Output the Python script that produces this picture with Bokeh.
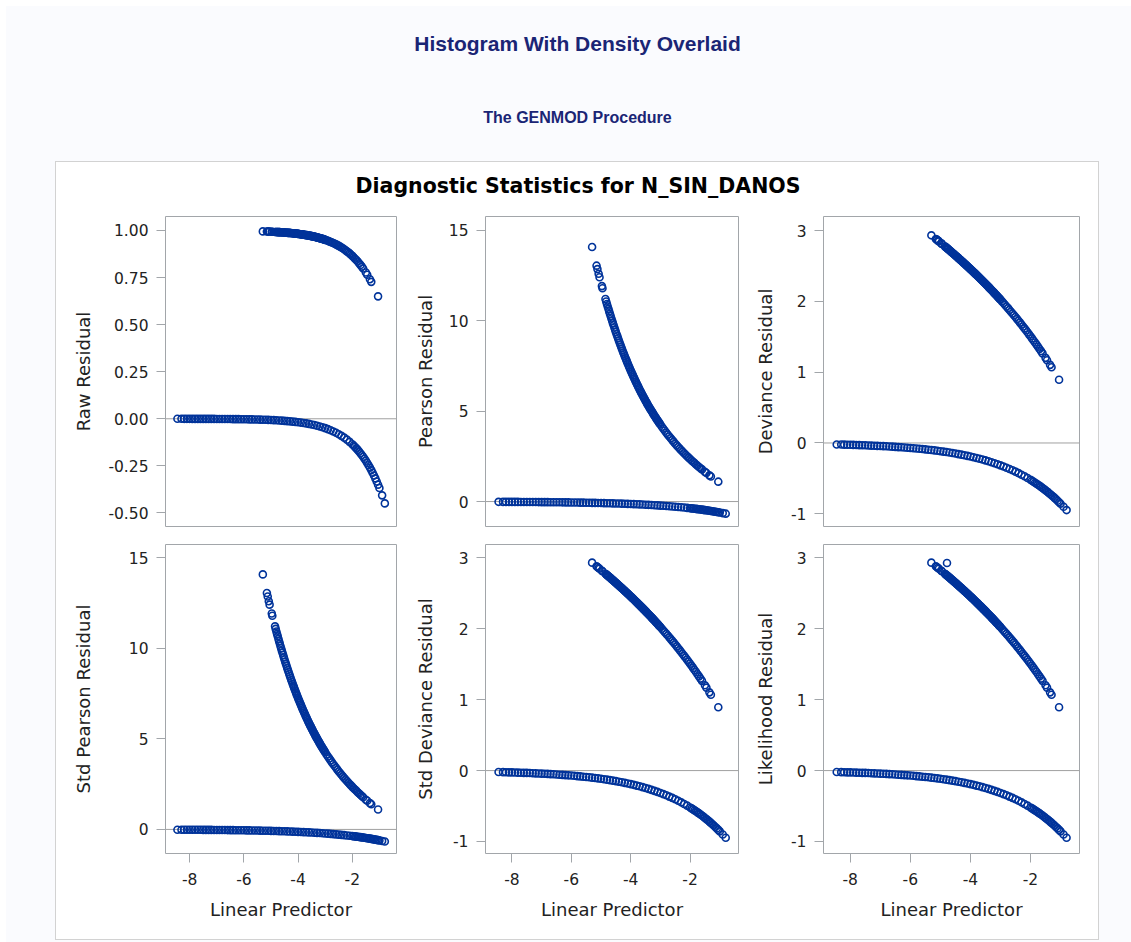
from bokeh.plotting import figure
from bokeh.models import (Range1d, FixedTicker, NumeralTickFormatter, Span, Column, Row)
from bokeh.core.properties import value
from bokeh.embed import file_html
from bokeh.resources import INLINE

# ---------------- texts ----------------
page_title = "Histogram With Density Overlaid"
page_subtitle = "The GENMOD Procedure"
graph_title = "Diagnostic Statistics for N_SIN_DANOS"
x_label = "Linear Predictor"
panel_labels = ["Raw Residual", "Pearson Residual", "Deviance Residual",
                "Std Pearson Residual", "Std Deviance Residual", "Likelihood Residual"]
x_ticks = [-8, -6, -4, -2]
raw_ticks = [-0.50, -0.25, 0.00, 0.25, 0.50, 0.75, 1.00]
pearson_ticks = [0, 5, 10, 15]
deviance_ticks = [-1, 0, 1, 2, 3]

# ---------------- data ----------------
# observations with a response (upper branch)
x_upper = [-5.30, -5.15, -5.12, -5.08, -5.05, -4.97, -4.95,
           -4.85, -4.80, -4.75, -4.70, -4.65, -4.60, -4.55, -4.50, -4.45, -4.40,
           -4.35, -4.30, -4.25, -4.20, -4.15, -4.10, -4.05, -4.00, -3.95, -3.90,
           -3.85, -3.80, -3.75, -3.70, -3.65, -3.60, -3.55, -3.50, -3.45, -3.40,
           -3.35, -3.30, -3.25, -3.20, -3.15, -3.10, -3.05, -3.00, -2.95, -2.90,
           -2.85, -2.80, -2.75, -2.70, -2.65, -2.60, -2.55, -2.50, -2.45, -2.40,
           -2.35, -2.30, -2.25, -2.20, -2.15, -2.10, -2.05, -2.00, -1.95, -1.90,
           -1.85, -1.80, -1.75, -1.70, -1.65, -1.60,
           -1.50, -1.45, -1.35, -1.30, -1.05]
raw_upper = [0.995, 0.994, 0.994, 0.994, 0.994, 0.993, 0.993,
             0.992, 0.992, 0.991, 0.991, 0.990, 0.990, 0.989, 0.989, 0.988, 0.988,
             0.987, 0.986, 0.986, 0.985, 0.984, 0.983, 0.983, 0.982, 0.981, 0.980,
             0.979, 0.978, 0.976, 0.975, 0.974, 0.973, 0.971, 0.970, 0.968, 0.967,
             0.965, 0.963, 0.961, 0.959, 0.957, 0.955, 0.953, 0.950, 0.948, 0.945,
             0.942, 0.939, 0.936, 0.933, 0.929, 0.926, 0.922, 0.918, 0.914, 0.909,
             0.905, 0.900, 0.895, 0.889, 0.884, 0.878, 0.871, 0.865, 0.858, 0.850,
             0.843, 0.835, 0.826, 0.817, 0.808, 0.798,
             0.777, 0.765, 0.741, 0.727, 0.650]
pearson_upper = [14.08, 13.05, 12.86, 12.60, 12.41, 11.92, 11.80,
                 11.21, 10.93, 10.66, 10.39, 10.13, 9.87, 9.63, 9.38, 9.15, 8.91,
                 8.69, 8.47, 8.25, 8.04, 7.84, 7.64, 7.44, 7.25, 7.07, 6.89,
                 6.71, 6.54, 6.37, 6.20, 6.04, 5.88, 5.73, 5.58, 5.43, 5.29,
                 5.15, 5.02, 4.88, 4.75, 4.62, 4.50, 4.38, 4.26, 4.14, 4.03,
                 3.92, 3.81, 3.70, 3.60, 3.50, 3.40, 3.30, 3.20, 3.11, 3.02,
                 2.93, 2.84, 2.76, 2.67, 2.59, 2.51, 2.43, 2.35, 2.27, 2.20,
                 2.13, 2.05, 1.98, 1.91, 1.84, 1.78,
                 1.64, 1.58, 1.45, 1.39, 1.10]
deviance_upper = [2.934, 2.883, 2.873, 2.859, 2.848, 2.820, 2.813,
                  2.778, 2.760, 2.742, 2.724, 2.705, 2.687, 2.669, 2.650, 2.631, 2.612,
                  2.593, 2.574, 2.555, 2.536, 2.516, 2.497, 2.477, 2.457, 2.437, 2.417,
                  2.396, 2.376, 2.355, 2.334, 2.313, 2.292, 2.271, 2.250, 2.228, 2.206,
                  2.184, 2.162, 2.140, 2.117, 2.094, 2.071, 2.048, 2.025, 2.001, 1.977,
                  1.953, 1.929, 1.905, 1.880, 1.855, 1.830, 1.805, 1.779, 1.753, 1.727,
                  1.700, 1.674, 1.646, 1.619, 1.592, 1.564, 1.535, 1.507, 1.478, 1.449,
                  1.419, 1.390, 1.359, 1.329, 1.298, 1.266,
                  1.203, 1.170, 1.104, 1.070, 0.894]

# further observations of the upper branch, in its steep, dense part
x_upper_b = [-4.825, -4.775, -4.725, -4.675, -4.625, -4.575, -4.525, -4.475, -4.425, -4.375,
             -4.325, -4.275, -4.225, -4.175, -4.125, -4.075, -4.025, -3.975, -3.925, -3.875,
             -3.825, -3.775, -3.725, -3.675, -3.625, -3.575, -3.525, -3.475, -3.425, -3.375,
             -3.325, -3.275, -3.225, -3.175, -3.125, -3.075, -3.025]
raw_upper_b = [0.992, 0.992, 0.991, 0.991, 0.990, 0.990, 0.989, 0.989, 0.988, 0.987,
               0.987, 0.986, 0.985, 0.985, 0.984, 0.983, 0.982, 0.981, 0.980, 0.979,
               0.978, 0.977, 0.976, 0.975, 0.973, 0.972, 0.971, 0.969, 0.967, 0.966,
               0.964, 0.962, 0.960, 0.958, 0.956, 0.954, 0.951]
pearson_upper_b = [11.07, 10.79, 10.52, 10.26, 10.00, 9.75, 9.50, 9.26, 9.03, 8.80,
                   8.58, 8.36, 8.15, 7.94, 7.74, 7.54, 7.35, 7.16, 6.98, 6.80,
                   6.62, 6.45, 6.28, 6.12, 5.96, 5.81, 5.66, 5.51, 5.36, 5.22,
                   5.08, 4.95, 4.82, 4.69, 4.56, 4.44, 4.32]
deviance_upper_b = [2.769, 2.751, 2.733, 2.715, 2.696, 2.678, 2.659, 2.641, 2.622, 2.603,
                    2.584, 2.565, 2.545, 2.526, 2.506, 2.487, 2.467, 2.447, 2.427, 2.407,
                    2.386, 2.366, 2.345, 2.324, 2.303, 2.282, 2.260, 2.239, 2.217, 2.195,
                    2.173, 2.151, 2.128, 2.106, 2.083, 2.060, 2.036]

std_pearson_upper, std_pearson_upper_b = pearson_upper, pearson_upper_b
std_deviance_upper, std_deviance_upper_b = deviance_upper, deviance_upper_b
likelihood_upper, likelihood_upper_b = deviance_upper, deviance_upper_b
likelihood_extra_x = [-4.78]
likelihood_extra_y = [2.93]

# observations without a response (lower branch)
x_lower = [-8.45, -8.3, -8.2, -8.1, -8.0, -7.9, -7.8, -7.7, -7.6, -7.5,
           -7.4, -7.3, -7.2, -7.1, -7.0, -6.9, -6.8, -6.7, -6.6, -6.5,
           -6.4, -6.3, -6.2, -6.1, -6.0, -5.9, -5.8, -5.7, -5.6, -5.5,
           -5.4, -5.3, -5.2, -5.1, -5.0, -4.9, -4.8, -4.7, -4.6, -4.5,
           -4.4, -4.3, -4.2, -4.1, -4.0, -3.9, -3.8, -3.7, -3.6, -3.5,
           -3.4, -3.3, -3.2, -3.1, -3.0, -2.9, -2.8, -2.7, -2.6, -2.5,
           -2.4, -2.3, -2.2, -2.1, -2.0, -1.95, -1.9, -1.85, -1.8, -1.75,
           -1.7, -1.65, -1.6, -1.55, -1.5, -1.45, -1.4, -1.35, -1.3, -1.25,
           -1.2, -1.15, -1.1, -1.05, -1.0, -0.9, -0.8]
raw_lower = [-0.0002, -0.0002, -0.0003, -0.0003, -0.0003, -0.0004, -0.0004, -0.0005, -0.0005, -0.0006,
             -0.0006, -0.0007, -0.0007, -0.0008, -0.0009, -0.0010, -0.0011, -0.0012, -0.0014, -0.0015,
             -0.0017, -0.0018, -0.0020, -0.0022, -0.0025, -0.0027, -0.0030, -0.0033, -0.0037, -0.0041,
             -0.0045, -0.0050, -0.0055, -0.0061, -0.0067, -0.0074, -0.0082, -0.0091, -0.0101, -0.0111,
             -0.0123, -0.0136, -0.0150, -0.0166, -0.0183, -0.0202, -0.0224, -0.0247, -0.0273, -0.0302,
             -0.0334, -0.0369, -0.0408, -0.0450, -0.0498, -0.0550, -0.0608, -0.0672, -0.0743, -0.0821,
             -0.0907, -0.1003, -0.1108, -0.1225, -0.1353, -0.1423, -0.1496, -0.1572, -0.1653, -0.1738,
             -0.1827, -0.1921, -0.2019, -0.2122, -0.2231, -0.2346, -0.2466, -0.2592, -0.2725, -0.2865,
             -0.3012, -0.3166, -0.3329, -0.3499, -0.3679, -0.4066, -0.4493]
pearson_lower = [-0.015, -0.016, -0.017, -0.017, -0.018, -0.019, -0.020, -0.021, -0.022, -0.024,
                 -0.025, -0.026, -0.027, -0.029, -0.030, -0.032, -0.033, -0.035, -0.037, -0.039,
                 -0.041, -0.043, -0.045, -0.047, -0.050, -0.052, -0.055, -0.058, -0.061, -0.064,
                 -0.067, -0.071, -0.074, -0.078, -0.082, -0.086, -0.091, -0.095, -0.100, -0.105,
                 -0.111, -0.116, -0.122, -0.129, -0.135, -0.142, -0.150, -0.157, -0.165, -0.174,
                 -0.183, -0.192, -0.202, -0.212, -0.223, -0.235, -0.247, -0.259, -0.273, -0.287,
                 -0.301, -0.317, -0.333, -0.350, -0.368, -0.377, -0.387, -0.397, -0.407, -0.417,
                 -0.427, -0.438, -0.449, -0.461, -0.472, -0.484, -0.497, -0.509, -0.522, -0.535,
                 -0.549, -0.563, -0.577, -0.592, -0.607, -0.638, -0.670]
deviance_lower = [-0.021, -0.022, -0.023, -0.025, -0.026, -0.027, -0.029, -0.030, -0.032, -0.033,
                  -0.035, -0.037, -0.039, -0.041, -0.043, -0.045, -0.047, -0.050, -0.052, -0.055,
                  -0.058, -0.061, -0.064, -0.067, -0.070, -0.074, -0.078, -0.082, -0.086, -0.090,
                  -0.095, -0.100, -0.105, -0.110, -0.116, -0.122, -0.128, -0.135, -0.142, -0.149,
                  -0.157, -0.165, -0.173, -0.182, -0.191, -0.201, -0.212, -0.222, -0.234, -0.246,
                  -0.258, -0.272, -0.286, -0.300, -0.316, -0.332, -0.349, -0.367, -0.385, -0.405,
                  -0.426, -0.448, -0.471, -0.495, -0.520, -0.533, -0.547, -0.561, -0.575, -0.590,
                  -0.604, -0.620, -0.635, -0.652, -0.668, -0.685, -0.702, -0.720, -0.738, -0.757,
                  -0.776, -0.796, -0.816, -0.837, -0.858, -0.902, -0.948]
std_pearson_lower = pearson_lower
std_deviance_lower = deviance_lower
likelihood_lower = deviance_lower

# ---------------- styles ----------------
PAGE_BG = "#FAFBFE"
TITLE_BLUE = "#1A2575"
MARKER = "#00339A"
FRAME = "#A2A6AA"
REFLINE = "#A0A0A0"
TEXT = "#222222"
AX_FONT = "DejaVu Sans"
X_RANGE = (-8.89, -0.37)
MARKER_KW = dict(size=7, marker="circle", fill_color=None, line_color=MARKER, line_width=1.6)


def style_axis(ax, ticks, fmt, label, label_standoff, label_pad):
    ax.ticker = FixedTicker(ticks=ticks)
    ax.formatter = fmt
    ax.axis_label = label
    ax.axis_label_text_font = AX_FONT
    ax.axis_label_text_font_size = "18px"
    ax.axis_label_text_font_style = "normal"
    ax.axis_label_text_color = TEXT
    ax.axis_label_standoff = label_standoff
    ax.major_label_text_font = AX_FONT
    ax.major_label_text_font_size = "15.5px"
    ax.major_label_text_color = TEXT
    ax.major_label_standoff = label_pad
    ax.major_tick_out = 9
    ax.major_tick_in = 0
    ax.minor_tick_out = 0
    ax.minor_tick_in = 0
    ax.major_tick_line_color = FRAME
    ax.axis_line_color = None


def make_panel(label, y_up, y_up_b, y_low, yrange, yticks, fmt, width, height,
               left, right, top, bottom, show_x, label_standoff,
               extra_x=None, extra_y=None):
    p = figure(width=width, height=height,
               x_range=Range1d(*X_RANGE), y_range=Range1d(*yrange),
               output_backend="svg", toolbar_location=None, tools="",
               min_border_left=left, min_border_right=right,
               min_border_top=top, min_border_bottom=bottom,
               x_axis_location="below" if show_x else None)
    p.background_fill_color = "white"
    p.border_fill_color = "white"
    p.outline_line_color = FRAME
    p.outline_line_width = 1
    p.xgrid.visible = False
    p.ygrid.visible = False
    p.add_layout(Span(location=0, dimension="width", line_color=REFLINE,
                      line_width=1, level="underlay"))
    p.scatter(x_lower, y_low, **MARKER_KW)
    p.scatter(x_upper, y_up, **MARKER_KW)
    p.scatter(x_upper_b, y_up_b, **MARKER_KW)
    if extra_x is not None:
        p.scatter(extra_x, extra_y, **MARKER_KW)
    style_axis(p.yaxis[0], yticks, fmt, label, label_standoff, 8)
    if show_x:
        style_axis(p.xaxis[0], x_ticks, NumeralTickFormatter(format="0"), x_label, 11, 10)
    return p


raw_fmt = NumeralTickFormatter(format="0.00")
int_fmt = NumeralTickFormatter(format="0")
raw_range = (-0.572, 1.074)
pearson_range = (-1.38, 15.77)
deviance_range = (-1.18, 3.20)
std_pearson_range = (-1.33, 15.73)
std_deviance_range = (-1.17, 3.19)

# row 1
f1 = make_panel(panel_labels[0], raw_upper, raw_upper_b, raw_lower, raw_range, raw_ticks,
                raw_fmt, 344, 333, 109, 4, 14, 9, False, 11)
f2 = make_panel(panel_labels[1], pearson_upper, pearson_upper_b, pearson_lower, pearson_range,
                pearson_ticks, int_fmt, 345, 333, 85, 7, 14, 9, False, 10)
f3 = make_panel(panel_labels[2], deviance_upper, deviance_upper_b, deviance_lower, deviance_range,
                deviance_ticks, int_fmt, 353, 333, 78, 19, 14, 9, False, 12)
# row 2
f4 = make_panel(panel_labels[3], std_pearson_upper, std_pearson_upper_b, std_pearson_lower,
                std_pearson_range, pearson_ticks, int_fmt, 344, 404, 109, 4, 9, 86, True, 32)
f5 = make_panel(panel_labels[4], std_deviance_upper, std_deviance_upper_b, std_deviance_lower,
                std_deviance_range, deviance_ticks, int_fmt, 345, 404, 85, 7, 9, 86, True, 14)
f6 = make_panel(panel_labels[5], likelihood_upper, likelihood_upper_b, likelihood_lower,
                std_deviance_range, deviance_ticks, int_fmt, 353, 404, 78, 19, 9, 86, True, 12,
                likelihood_extra_x, likelihood_extra_y)

# graph title strip
gt = figure(width=1042, height=40, x_range=Range1d(0, 1042), y_range=Range1d(40, 0),
            output_backend="svg", toolbar_location=None, tools="",
            x_axis_location=None, y_axis_location=None, min_border=0)
gt.outline_line_color = None
gt.background_fill_color = "white"
gt.border_fill_color = "white"
gt.xgrid.visible = False
gt.ygrid.visible = False
gt.text(x=[521.5], y=[23], text=[graph_title], text_font=value("DejaVu Sans"),
        text_font_style="bold", text_font_size="20.5px", text_color="black",
        text_align="center", text_baseline="middle")

# page header
hdr = figure(width=1125, height=155, x_range=Range1d(0, 1125), y_range=Range1d(155, 0),
             output_backend="svg", toolbar_location=None, tools="",
             x_axis_location=None, y_axis_location=None, min_border=0)
hdr.outline_line_color = None
hdr.background_fill_color = PAGE_BG
hdr.border_fill_color = PAGE_BG
hdr.xgrid.visible = False
hdr.ygrid.visible = False
hdr.text(x=[571], y=[37], text=[page_title], text_font=value("Liberation Sans"),
         text_font_style="bold", text_font_size="21px", text_color=TITLE_BLUE,
         text_align="center", text_baseline="middle")
hdr.text(x=[571], y=[111], text=[page_subtitle], text_font=value("Liberation Sans"),
         text_font_style="bold", text_font_size="16px", text_color=TITLE_BLUE,
         text_align="center", text_baseline="middle")

row1 = Row(children=[f1, f2, f3], spacing=0)
row2 = Row(children=[f4, f5, f6], spacing=0)
panel = Column(children=[gt, row1, row2], spacing=0, margin=(1, 0, 3, 50),
               styles={"background-color": "white", "outline": "1px solid #D2D2D2"})
page = Column(children=[hdr, panel], spacing=0, margin=(6, 0, 0, 6),
              styles={"background-color": PAGE_BG})

open("out.html", "w").write(file_html(page, INLINE))
